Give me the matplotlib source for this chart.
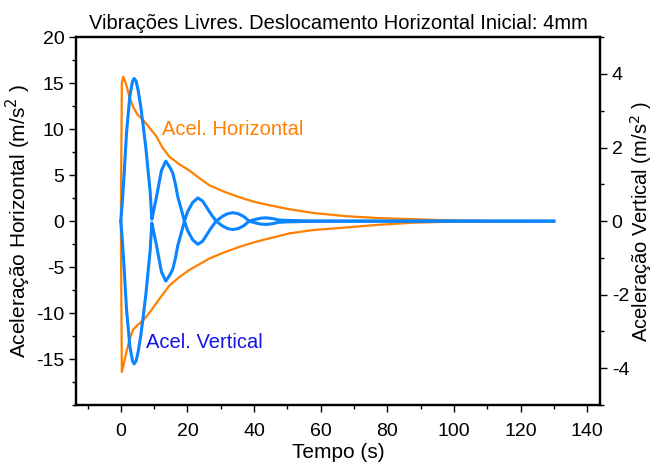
# vibracoes livres - aceleracoes horizontal e vertical
import matplotlib
matplotlib.use("Agg")
import matplotlib.pyplot as plt
import numpy as np
from matplotlib.ticker import MultipleLocator

plt.rcParams['font.family'] = ['Liberation Sans', 'DejaVu Sans']
plt.rcParams['font.size'] = 14
plt.rcParams['axes.unicode_minus'] = False

# envoltoria da aceleracao horizontal (m/s2)
t_hor = [0, 0.3, 0.7, 1.5, 2.5, 3.7, 5.0, 6.7, 8.5, 10.7, 12.5, 14.6, 17.5, 20.6,
         23.5, 26.6, 31, 35.6, 40, 44.5, 50.5, 57.5, 67.5, 77.4, 87.3, 95, 105, 120]
hor_sup = [0, 15.0, 15.7, 15.0, 13.6, 12.4, 11.6, 11.0, 10.2, 9.2, 8.0, 7.0, 6.2, 5.5,
           4.7, 3.9, 3.2, 2.6, 2.1, 1.74, 1.3, 0.9, 0.54, 0.33, 0.22, 0.12, 0.05, 0.0]
hor_inf = [0, -16.4, -15.8, -14.5, -13.0, -11.8, -11.3, -10.8, -10.0, -8.9, -8.0, -7.0, -6.1, -5.3,
           -4.7, -4.06, -3.4, -2.8, -2.3, -1.88, -1.34, -0.98, -0.69, -0.4, -0.18, -0.1, -0.05, 0]

# envoltoria da aceleracao vertical (m/s2)
t_ver = [0, 0.5, 1.0, 1.7, 2.7, 3.5, 4.0, 4.6, 5.2, 6.0, 6.7, 7.5, 8.2, 8.8, 9.3,
         10.0, 10.7, 11.5, 12.2, 13.5, 14.8, 15.6, 16.4, 17.1, 18.2, 19.1,
         20.0, 21.5, 23.1, 24.5, 25.6, 27.0, 28.6, 30.5, 32.0, 33.6, 35.3, 37.0, 38.5,
         40.5, 42.0, 43.6, 45.5, 47.5, 50, 55, 60, 80, 100, 130]
ver_env = [0, 0.6, 1.3, 2.4, 3.4, 3.8, 3.88, 3.8, 3.55, 3.1, 2.6, 2.0, 1.35, 0.8, 0.05,
           0.35, 0.66, 1.05, 1.38, 1.63, 1.45, 1.3, 1.0, 0.66, 0.3, 0.0,
           0.25, 0.5, 0.63, 0.55, 0.4, 0.2, 0.0, 0.13, 0.2, 0.23, 0.2, 0.12, 0.0,
           0.05, 0.08, 0.09, 0.07, 0.03, 0.02, 0.01, 0, 0, 0, 0]

laranja = '#FF8000'
azul = '#0A84FF'

fig = plt.figure(figsize=(6.57, 4.71), dpi=100)
ax = fig.add_axes([0.116, 0.140, 0.797, 0.781])
ax2 = ax.twinx()

ax.plot(t_hor, hor_sup, color=laranja, lw=1.6)
ax.plot(t_hor, hor_inf, color=laranja, lw=1.6)
ax2.plot(t_ver, ver_env, color=azul, lw=2.2)
ax2.plot(t_ver, -np.array(ver_env), color=azul, lw=2.2)

ax.set_xlim(-13.4, 143.8)
ax.set_ylim(-20, 20)
ax2.set_ylim(-5, 5)

ax.set_yticks([-15, -10, -5, 0, 5, 10, 15, 20])
ax.yaxis.set_minor_locator(MultipleLocator(2.5))
ax.set_xticks([0, 20, 40, 60, 80, 100, 120, 140])
ax.xaxis.set_minor_locator(MultipleLocator(10))
ax2.set_yticks([-4, -2, 0, 2, 4])
ax2.yaxis.set_minor_locator(MultipleLocator(1))

for a in (ax, ax2):
    a.tick_params(which='major', direction='out', length=5, width=1, labelsize=14)
    a.tick_params(which='minor', direction='out', length=3, width=1)
    for s in a.spines.values():
        s.set_linewidth(1.6)
ax.tick_params(axis='x', which='major', pad=8)

ax.set_xlabel('Tempo (s)', fontsize=15, labelpad=2)
ax.set_ylabel('Aceleração Horizontal (m/s$^2$ )', fontsize=15, labelpad=2)
ax2.set_ylabel('Aceleração Vertical (m/s$^2$ )', fontsize=14.5, labelpad=-1)
ax.set_title('Vibrações Livres. Deslocamento Horizontal Inicial: 4mm', fontsize=14.5, pad=6)

ax.text(12.5, 10.0, 'Acel. Horizontal', color=laranja, fontsize=14.5, va='center')
ax.text(7.5, -13.2, 'Acel. Vertical', color='#1414E6', fontsize=14.5, va='center')

fig.savefig('out.png', dpi=100)
